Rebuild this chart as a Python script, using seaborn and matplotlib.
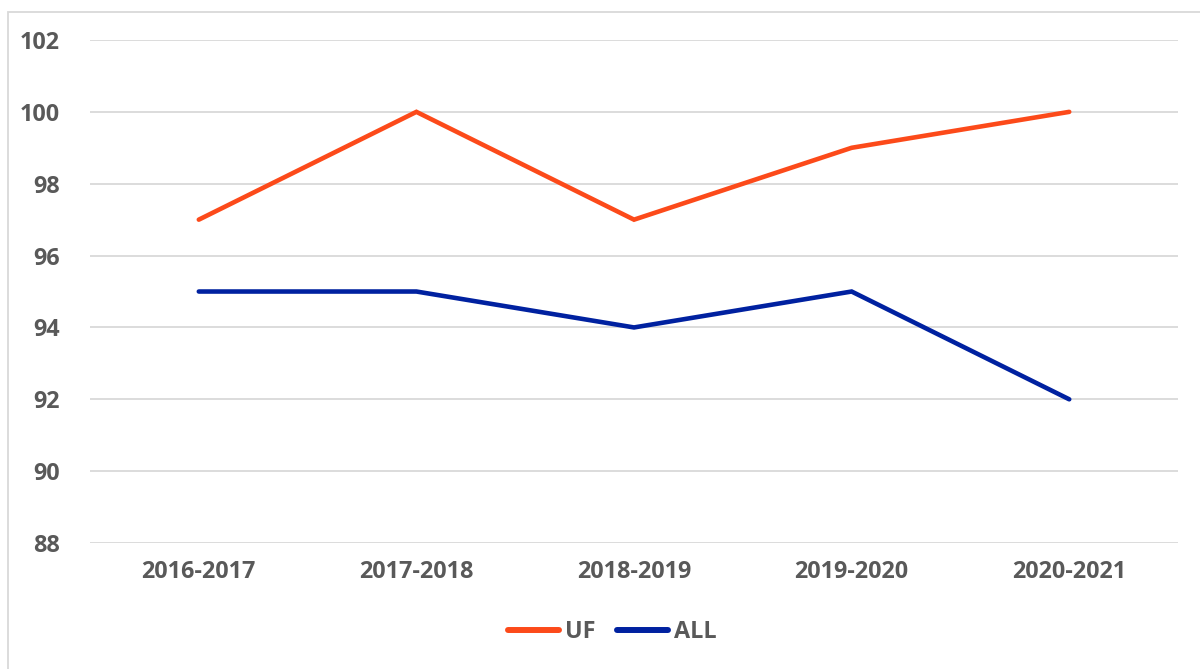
import pandas as pd
import matplotlib.pyplot as plt
import seaborn as sns
from matplotlib.patches import Rectangle

# Ma'lumotlar
years = ["2016-2017", "2017-2018", "2018-2019", "2019-2020", "2020-2021"]
uf = [97, 100, 97, 99, 100]
all_vals = [95, 95, 94, 95, 92]

df = pd.DataFrame({
    "Year": years * 2,
    "Value": uf + all_vals,
    "Group": ["UF"] * len(years) + ["ALL"] * len(years),
})

sns.set_style("white")
plt.rcParams["font.family"] = ["Open Sans", "DejaVu Sans"]
gray = "#595959"
fs = 16.8

fig = plt.figure(figsize=(12, 6.69), dpi=100)
ax = fig.add_axes([0.075, 0.1883, 0.9067, 0.7519])

sns.lineplot(data=df, x="Year", y="Value", hue="Group",
             palette={"UF": "#FC4A1A", "ALL": "#0021A0"},
             linewidth=3.3, sort=False, ax=ax)
for ln in ax.lines:
    ln.set_solid_capstyle("round")
    ln.set_solid_joinstyle("miter")

ax.set_ylim(88, 102)
ax.set_yticks(range(88, 103, 2))
ax.set_xlim(-0.5, 4.5)
ax.yaxis.grid(True, color="#D9D9D9", linewidth=1.3)
ax.set_axisbelow(True)
for s in ax.spines.values():
    s.set_visible(False)
ax.set_xlabel("")
ax.set_ylabel("")
ax.tick_params(axis="both", length=0, labelsize=fs, labelcolor=gray)
ax.tick_params(axis="y", pad=22)
ax.tick_params(axis="x", pad=12)
for t in ax.get_xticklabels() + ax.get_yticklabels():
    t.set_fontweight("bold")

leg = ax.legend(loc="center", bbox_to_anchor=(0.48, -0.177), ncol=2, frameon=False,
                handlelength=2.2, handletextpad=0.25, columnspacing=0.9,
                prop={"size": fs, "weight": "bold"})
for t in leg.get_texts():
    t.set_color(gray)
for h in leg.get_lines():
    h.set_linewidth(4.3)
    h.set_solid_capstyle("round")

# ramka
fig.patches.append(Rectangle((8 / 1200, -0.1), 1.2, 1 - 12 / 669 + 0.1,
                             transform=fig.transFigure, fill=False,
                             edgecolor="#D9D9D9", linewidth=1.3))

fig.savefig("out.png", dpi=100)
